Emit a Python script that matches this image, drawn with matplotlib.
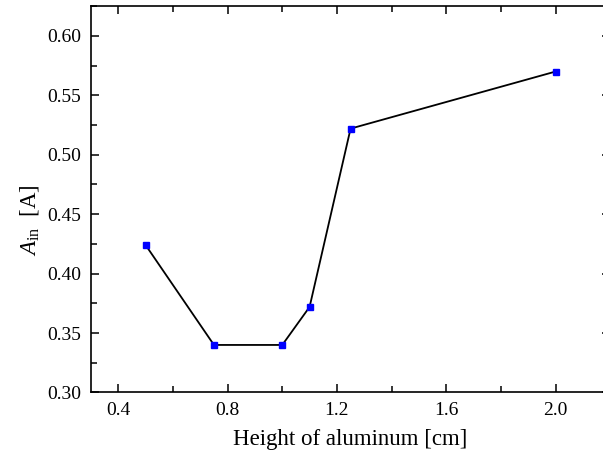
import matplotlib
matplotlib.use('Agg')
import matplotlib.pyplot as plt
from matplotlib.ticker import MultipleLocator

plt.rcParams['font.family'] = ['Liberation Serif', 'DejaVu Serif']
plt.rcParams['mathtext.fontset'] = 'custom'
plt.rcParams['mathtext.rm'] = 'Liberation Serif'
plt.rcParams['mathtext.it'] = 'Liberation Serif:italic'

# data
height_cm = [0.5, 0.75, 1.0, 1.1, 1.25, 2.0]
a_in = [0.424, 0.340, 0.340, 0.372, 0.522, 0.570]

fig = plt.figure(figsize=(6.03, 4.61), dpi=100)
ax = fig.add_axes([0.1509, 0.1486, 0.861, 0.838])

ax.plot(height_cm, a_in, color='black', lw=1.3, marker='s', ms=4.8,
        mfc='#0000ff', mec='#0000ff', zorder=3)

ax.set_xlim(0.3, 2.2)
ax.set_ylim(0.30, 0.625)
ax.xaxis.set_major_locator(MultipleLocator(0.4))
ax.xaxis.set_minor_locator(MultipleLocator(0.2))
ax.yaxis.set_major_locator(MultipleLocator(0.05))
ax.yaxis.set_minor_locator(MultipleLocator(0.025))
ax.xaxis.set_major_formatter(plt.FormatStrFormatter('%.1f'))
ax.yaxis.set_major_formatter(plt.FormatStrFormatter('%.2f'))

ax.tick_params(which='both', direction='in', top=True, right=True, width=1.1)
ax.tick_params(which='major', length=6, labelsize=14, pad=7)
ax.tick_params(which='minor', length=4)
for s in ax.spines.values():
    s.set_linewidth(1.2)

ax.set_xlabel('Height of aluminum [cm]', fontsize=16.5, labelpad=7)
ax.set_ylabel(r'$A_{\rm in}$  [A]', fontsize=16.5)
ax.yaxis.set_label_coords(-0.096, 0.446)

fig.savefig('out.png', dpi=100)
